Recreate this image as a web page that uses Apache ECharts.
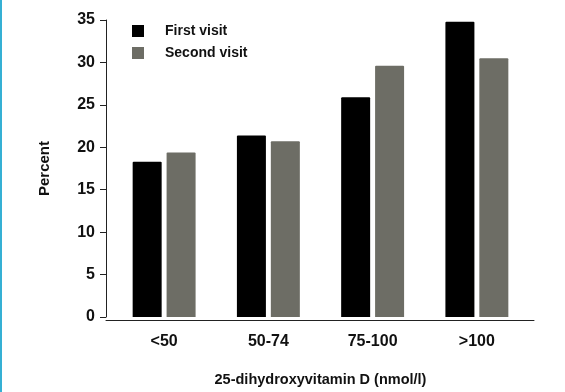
<!DOCTYPE html>
<html>
<head>
<meta charset="utf-8">
<script src="https://cdn.jsdelivr.net/npm/echarts@6/dist/echarts.min.js"></script>
<style>
html,body{margin:0;padding:0;background:#fff;}
#chart{position:absolute;left:0;top:0;width:565px;height:392px;}
#edge{position:absolute;left:0;top:0;width:2px;height:392px;background:#35b0d4;}
</style>
</head>
<body>
<div id="chart"></div>
<div id="edge"></div>
<script>
const categories = ['<50', '50-74', '75-100', '>100'];
const firstVisit = [18.3, 21.4, 25.9, 34.8];
const secondVisit = [19.4, 20.7, 29.6, 30.5];
const yTicks = [0, 5, 10, 15, 20, 25, 30, 35];
const seriesNames = ['First visit', 'Second visit'];
const xTitle = '25-dihydroxyvitamin D (nmol/l)';
const yTitle = 'Percent';

const FONT = '"Liberation Sans", Arial, sans-serif';
const chart = echarts.init(document.getElementById('chart'), null, {renderer: 'canvas'});
chart.setOption({
  animation: false,
  backgroundColor: '#fff',
  textStyle: {fontFamily: FONT},
  legend: {
    orient: 'vertical',
    left: 132,
    top: 23,
    padding: 0,
    itemWidth: 12,
    itemHeight: 12,
    itemGap: 6,
    icon: 'rect',
    textStyle: {fontFamily: FONT, fontSize: 14, fontWeight: 'bold', color: '#111', lineHeight: 16, padding: [0, 0, 0, 16]},
    data: seriesNames
  },
  grid: [
    {left: 112, right: 36, top: 20, bottom: 72, containLabel: false},
    {left: 106, right: 31, top: 20, bottom: 72, containLabel: false}
  ],
  xAxis: [
    {
      type: 'category',
      gridIndex: 0,
      data: categories,
      axisLine: {show: false},
      axisTick: {show: false},
      axisLabel: {fontFamily: FONT, fontSize: 16, fontWeight: 'bold', color: '#111', margin: 17},
      name: xTitle,
      nameLocation: 'middle',
      nameGap: 55,
      nameTextStyle: {fontFamily: FONT, fontSize: 14.5, fontWeight: 'bold', color: '#111'}
    },
    {
      type: 'value',
      gridIndex: 1,
      min: 0, max: 1,
      axisLine: {show: true, onZero: false, lineStyle: {color: '#222', width: 1}},
      axisTick: {show: false},
      axisLabel: {show: false},
      splitLine: {show: false}
    }
  ],
  yAxis: [
    {
      type: 'value',
      gridIndex: 0,
      min: yTicks[0],
      max: yTicks[yTicks.length - 1],
      interval: 5,
      offset: 6,
      axisLine: {show: true, lineStyle: {color: '#222', width: 1}},
      axisTick: {show: true, length: 6, lineStyle: {color: '#222', width: 1}},
      axisLabel: {fontFamily: FONT, fontSize: 16, fontWeight: 'bold', color: '#111', margin: 11},
      splitLine: {show: false},
      name: yTitle,
      nameLocation: 'middle',
      nameGap: 54,
      nameRotate: 90,
      nameTextStyle: {fontFamily: FONT, fontSize: 15, fontWeight: 'bold', color: '#111'}
    },
    {
      type: 'value',
      gridIndex: 1,
      show: false
    }
  ],
  series: [
    {
      name: seriesNames[0],
      type: 'bar',
      xAxisIndex: 0, yAxisIndex: 0,
      data: firstVisit,
      barWidth: 29,
      barGap: '17%',
      itemStyle: {color: '#000', borderRadius: [1, 1, 0, 0]}
    },
    {
      name: seriesNames[1],
      type: 'bar',
      xAxisIndex: 0, yAxisIndex: 0,
      data: secondVisit,
      barWidth: 29,
      barGap: '17%',
      itemStyle: {color: '#6d6d65', borderRadius: [1, 1, 0, 0]}
    }
  ]
});
</script>
</body>
</html>
